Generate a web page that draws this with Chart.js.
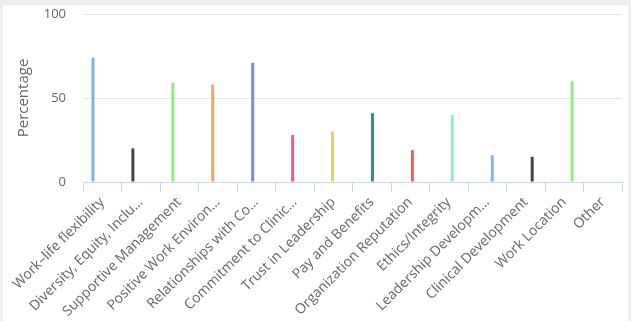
<!DOCTYPE html>
<html>
<head>
<meta charset="utf-8">
<script src="https://cdn.jsdelivr.net/npm/chart.js@4/dist/chart.umd.min.js"></script>
<style>
  html, body { margin: 0; padding: 0; background: #eeeeee; }
  #card { position: absolute; left: 3px; top: 5px; width: 625px; height: 316px; background: #fff; }
</style>
</head>
<body>
<div id="card"><canvas id="chart" width="625" height="316"></canvas></div>
<script>
const categories = [
  "Work–life flexibility", "Diversity, Equity, Inclu…", "Supportive Management",
  "Positive Work Environ…", "Relationships with Co…", "Commitment to Clinic…",
  "Trust in Leadership", "Pay and Benefits", "Organization Reputation",
  "Ethics/Integrity", "Leadership Developm…", "Clinical Development",
  "Work Location", "Other"
];
const values = [74, 20, 59, 58, 71, 28, 30, 41, 19, 40, 16, 15, 60, 0];
const colors = [
  "#7cb5ec", "#434348", "#90ed7d", "#f7a35c", "#8085e9", "#f15c80", "#e4d354",
  "#2b908f", "#f45b5b", "#91e8e1", "#7cb5ec", "#434348", "#90ed7d", "#f7a35c"
];
const yTicks = [0, 50, 100];

const family = "'Open Sans', sans-serif";

// one series per category, like the original, so bars sit inside the group
const datasets = categories.map((name, i) => ({
  label: name,
  data: categories.map((_, j) => (j === i ? values[i] : null)),
  backgroundColor: colors[i],
  borderWidth: 0,
  categoryPercentage: 0.52,
  barPercentage: 2.1
}));

new Chart(document.getElementById("chart"), {
  type: "bar",
  data: { labels: categories, datasets },
  options: {
    responsive: false,
    animation: false,
    layout: { padding: { top: 9, right: 6, left: 0, bottom: 0 } },
    plugins: { legend: { display: false }, tooltip: { enabled: false } },
    scales: {
      x: {
        offset: true,
        grid: { offset: true, drawOnChartArea: false, color: "#ccd6eb", tickLength: 10 },
        border: { color: "#ccd6eb" },
        ticks: { color: "#666666", font: { family, size: 14 }, minRotation: 45, maxRotation: 45, padding: 2, autoSkip: false },
        afterFit: (s) => { s.height = 139; }
      },
      y: {
        min: 0,
        max: 100,
        afterBuildTicks: (s) => { s.ticks = yTicks.map((v) => ({ value: v })); },
        grid: { color: "#e6e6e6", drawTicks: false },
        border: { display: false },
        ticks: { color: "#666666", font: { family, size: 13 }, padding: 17 },
        title: { display: true, text: "Percentage", color: "#666666", font: { family, size: 15 }, padding: { top: 12, bottom: 0 } },
        afterFit: (s) => { s.width = 80; s.paddingTop = 0; s.paddingBottom = 0; }
      }
    }
  }
});
</script>
</body>
</html>
